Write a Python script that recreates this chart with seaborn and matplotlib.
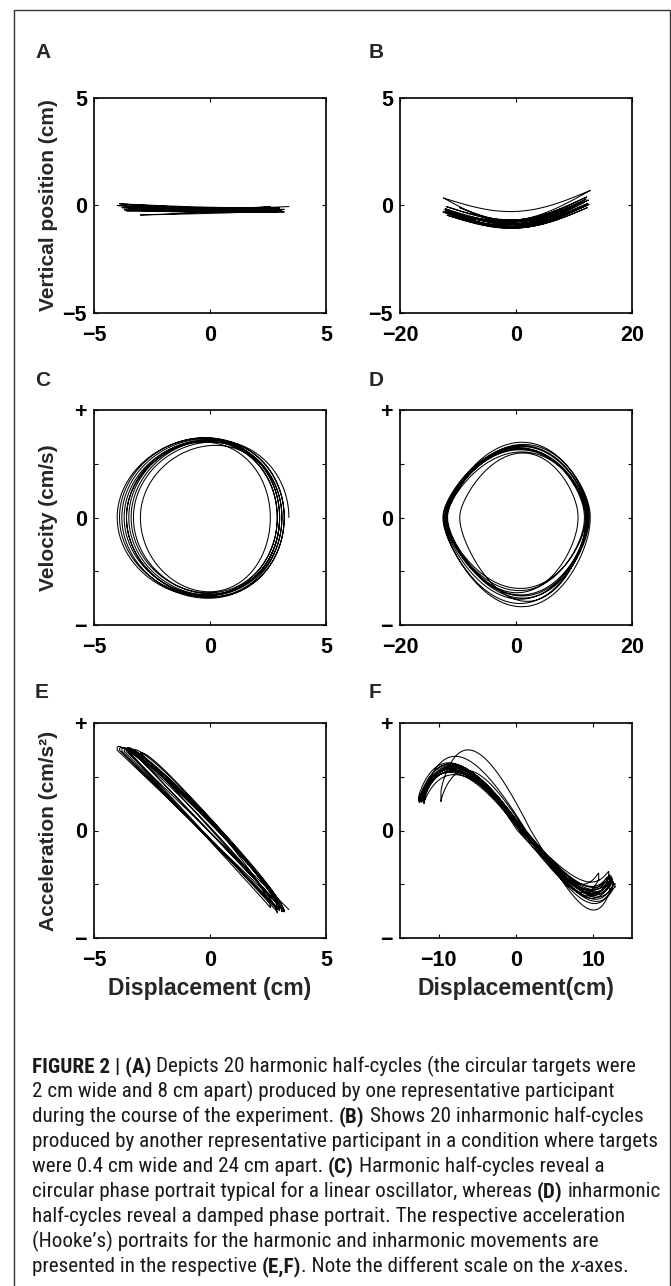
import numpy as np
import pandas as pd
import matplotlib
matplotlib.use("Agg")
import matplotlib.pyplot as plt
import seaborn as sns
from matplotlib.lines import Line2D
from matplotlib.font_manager import FontProperties, fontManager

# ---------------- data ----------------
# Harmonic participant (panels A, C, E): turning points of the 20 half-cycles (cm)
harm_turns = [3.0, -3.3, 3.1, -3.6, 2.9, -4.0, 3.2, -3.8, 3.0, -3.5, 2.6,
              -3.0, 3.1, -3.9, 3.0, -3.7, 2.9, -3.4, 3.2, -3.6, 3.4]
# vertical position at each turning point (cm, panel A)
harm_height = [-0.10, -0.05, -0.25, 0.05, -0.15, 0.00, -0.30, -0.10, -0.20, -0.15, -0.05,
               -0.44, -0.25, 0.08, -0.12, -0.20, -0.30, -0.05, -0.18, -0.25, -0.05]
# dip of the vertical path in each half-cycle (cm, panel A)
harm_sag = [0.05, 0.08, 0.02, 0.06, 0.10, 0.04, 0.07, 0.03, 0.05, 0.09,
            0.06, 0.02, 0.08, 0.05, 0.04, 0.07, 0.03, 0.06, 0.05, 0.04]
# peak velocity of each half-cycle (panel C, axis units -1..+1)
harm_vpeak = [0.71, 0.70, 0.74, 0.72, 0.73, 0.74, 0.75, 0.73, 0.72, 0.70,
              0.69, 0.67, 0.73, 0.74, 0.72, 0.71, 0.70, 0.72, 0.74, 0.72]
# peak acceleration of each half-cycle (panel E, axis units -1..+1)
harm_apeak = [0.74, 0.73, 0.75, 0.76, 0.77, 0.75, 0.76, 0.74, 0.73, 0.72,
              0.71, 0.73, 0.76, 0.75, 0.74, 0.74, 0.72, 0.75, 0.76, 0.74]
harm_abow = 0.08      # mid-movement acceleration offset seen in panel E
harm_alag = 0.10      # small acceleration phase lag (thin loops in panel E)

# Inharmonic participant (panels B, D, F)
inh_turns = [-12.0, 12.4, -12.3, 12.1, -9.7, 10.7, -11.8, 12.8, -12.5, 12.0, -12.1,
             12.6, -11.9, 12.3, -12.6, 11.8, -12.2, 12.5, -12.0, 12.2, -12.4]
inh_height = [-0.20, 0.10, -0.30, 0.30, -0.10, 0.00, -0.35, 0.70, 0.35, 0.00, -0.25,
              0.05, -0.45, -0.10, -0.30, 0.15, -0.15, 0.25, -0.05, 0.40, -0.20]
inh_sag = [0.80, 0.85, 0.75, 0.90, 0.70, 0.80, 0.85, 0.80, 1.05, 0.85,
           0.90, 0.80, 0.78, 0.85, 0.82, 0.88, 0.80, 0.76, 0.84, 0.80]
inh_vpeak = [0.66, 0.72, 0.63, 0.78, 0.60, 0.70, 0.68, 0.83, 0.64, 0.66,
             0.70, 0.75, 0.61, 0.80, 0.65, 0.68, 0.67, 0.73, 0.64, 0.76]
# acceleration peak near the left target (positive) and near the right target (negative)
inh_apos = [0.58, 0.55, 0.62, 0.75, 0.56, 0.60, 0.69, 0.57, 0.54, 0.61,
            0.59, 0.52, 0.60, 0.57, 0.63, 0.55, 0.58, 0.60, 0.56, 0.62]
inh_aneg = [0.55, 0.60, 0.52, 0.74, 0.58, 0.50, 0.62, 0.66, 0.56, 0.48,
            0.60, 0.64, 0.53, 0.58, 0.61, 0.55, 0.68, 0.57, 0.59, 0.63]
inh_skew = 0.17       # velocity peak lies right of the mid-point (panels D, F)
inh_shape = 0.04      # flattening of the velocity profile (diamond portrait)

# axis texts
panel_letters = ["A", "B", "C", "D", "E", "F"]
ylabels = ["Vertical position (cm)", "Velocity (cm/s)", "Acceleration (cm/s\u00b2)"]
xlabels = ["Displacement (cm)", "Displacement(cm)"]
xticks_h, xticklabels_h = [-5, 0, 5], ["\u22125", "0", "5"]
xticks_i, xticklabels_i = [-20, 0, 20], ["\u221220", "0", "20"]
xticks_f, xticklabels_f = [-10, 0, 10], ["\u221210", "0", "10"]
yticks_pos, yticklabels_pos = [-5, 0, 5], ["\u22125", "0", "5"]
yticks_rel, yticklabels_rel = [-1, -0.5, 0, 0.5, 1], ["\u2212", "", "0", "", "+"]

caption_lines = [
    [("FIGURE 2 | (A)", "bold"), (" Depicts 20 harmonic half-cycles (the circular targets were", "normal")],
    [("2 cm wide and 8 cm apart) produced by one representative participant", "normal")],
    [("during the course of the experiment. ", "normal"), ("(B)", "bold"),
     (" Shows 20 inharmonic half-cycles", "normal")],
    [("produced by another representative participant in a condition where targets", "normal")],
    [("were 0.4 cm wide and 24 cm apart. ", "normal"), ("(C)", "bold"),
     (" Harmonic half-cycles reveal a", "normal")],
    [("circular phase portrait typical for a linear oscillator, whereas ", "normal"),
     ("(D)", "bold"), (" inharmonic", "normal")],
    [("half-cycles reveal a damped phase portrait. The respective acceleration", "normal")],
    [("(Hooke\u2019s) portraits for the harmonic and inharmonic movements are", "normal")],
    [("presented in the respective ", "normal"), ("(E,F)", "bold"),
     (". Note the different scale on the ", "normal"), ("x", "italic"), ("-axes.", "normal")],
]

# ---------------- trajectories built from the half-cycle readings ----------------
def harmonic_df():
    tau = np.linspace(0, 1, 240)
    rows = []
    for i in range(len(harm_turns) - 1):
        x0, x1 = harm_turns[i], harm_turns[i + 1]
        d = np.sign(x1 - x0)
        s = (1 - np.cos(np.pi * tau)) / 2
        x = x0 + (x1 - x0) * s
        y = harm_height[i] + (harm_height[i + 1] - harm_height[i]) * s - harm_sag[i] * np.sin(np.pi * s)
        v = d * harm_vpeak[i] * np.sin(np.pi * tau) * (1 - 0.06 * d * np.cos(np.pi * tau))
        a = d * harm_apeak[i] * np.cos(np.pi * tau + harm_alag) + harm_abow * np.sin(np.pi * tau)
        rows.append(pd.DataFrame({"x": x, "y": y, "v": v, "a": a}))
    return pd.concat(rows, ignore_index=True)


def inharmonic_df():
    tau = np.linspace(0, 1, 400)
    b = inh_shape
    rows = []
    for i in range(len(inh_turns) - 1):
        x0, x1 = inh_turns[i], inh_turns[i + 1]
        d = np.sign(x1 - x0)
        mid, half = (x0 + x1) / 2, abs(x1 - x0) / 2
        w = tau - d * inh_skew * tau * (1 - tau)
        w1 = 1 - d * inh_skew * (1 - 2 * tau)
        w2 = 2 * d * inh_skew
        th = np.pi * w
        X = -(np.cos(th) - b * np.cos(3 * th)) / (1 - b)
        X1 = (np.sin(th) - 3 * b * np.sin(3 * th)) / (1 - b)
        X2 = (np.cos(th) - 9 * b * np.cos(3 * th)) / (1 - b)
        x = mid + d * half * X
        vraw = d * X1 * np.pi * w1
        v = vraw * inh_vpeak[i] / np.abs(vraw).max()
        acc = d * (X2 * np.pi ** 2 * w1 ** 2 + X1 * np.pi * w2)
        pos = acc > 0
        neg = acc < 0
        acc[pos] *= inh_apos[i] / acc[pos].max()
        acc[neg] *= inh_aneg[i] / (-acc[neg].min())
        u = (x - x0) / (x1 - x0)
        y = inh_height[i] + (inh_height[i + 1] - inh_height[i]) * u - inh_sag[i] * np.sin(np.pi * u)
        rows.append(pd.DataFrame({"x": x, "y": y, "v": v, "a": acc}))
    return pd.concat(rows, ignore_index=True)


harm = harmonic_df()
inh = inharmonic_df()

# ---------------- figure ----------------
sns.set_style("white")
plt.rcParams["font.family"] = ["Liberation Sans", "DejaVu Sans"]
plt.rcParams["axes.unicode_minus"] = True

W, H = 671, 1286
fig = plt.figure(figsize=(W / 100, H / 100), dpi=100)


def px_rect(l, r, t, b):
    return [l / W, 1 - b / H, (r - l) / W, (b - t) / H]


cols = [(94, 326), (400, 632)]
rows_px = [(98, 313), (410, 625), (723, 938)]

TICK_FS = 15.5
LW = 0.75


def style(ax, xlim, xt, xtl, ylim, yt, ytl):
    ax.set_xlim(xlim)
    ax.set_ylim(ylim)
    ax.set_xticks(xt)
    ax.set_xticklabels(xtl, fontsize=TICK_FS, fontweight="bold")
    ax.set_yticks(yt)
    ax.set_yticklabels(ytl, fontsize=TICK_FS, fontweight="bold")
    ax.tick_params(axis="x", direction="in", top=True, bottom=True, length=2.6, width=0.8,
                   pad=8.5, colors="black")
    ax.tick_params(axis="y", direction="in", left=True, right=True, length=2.6, width=0.8,
                   pad=5.0, colors="black")
    for sp in ax.spines.values():
        sp.set_visible(True)
        sp.set_linewidth(1.2)
        sp.set_color("black")
    ax.set_xlabel("")
    ax.set_ylabel("")
    ax.set_facecolor("white")


panels = [
    (harm, "x", "y", (-5, 5), xticks_h, xticklabels_h, (-5, 5), yticks_pos, yticklabels_pos),
    (inh, "x", "y", (-20, 20), xticks_i, xticklabels_i, (-5, 5), yticks_pos, yticklabels_pos),
    (harm, "x", "v", (-5, 5), xticks_h, xticklabels_h, (-1, 1), yticks_rel, yticklabels_rel),
    (inh, "x", "v", (-20, 20), xticks_i, xticklabels_i, (-1, 1), yticks_rel, yticklabels_rel),
    (harm, "x", "a", (-5, 5), xticks_h, xticklabels_h, (-1, 1), yticks_rel, yticklabels_rel),
    (inh, "x", "a", (-15, 15), xticks_f, xticklabels_f, (-1, 1), yticks_rel, yticklabels_rel),
]

for k, (df, xc, yc, xlim, xt, xtl, ylim, yt, ytl) in enumerate(panels):
    r, c = divmod(k, 2)
    ax = fig.add_axes(px_rect(cols[c][0], cols[c][1], rows_px[r][0], rows_px[r][1]))
    sns.lineplot(data=df, x=xc, y=yc, sort=False, estimator=None, color="black",
                 linewidth=LW, ax=ax, legend=False)
    style(ax, xlim, xt, xtl, ylim, yt, ytl)

# panel letters
letter_base = [58, 386, 698]
for k, lab in enumerate(panel_letters):
    r, c = divmod(k, 2)
    x = 35 if c == 0 else 369
    fig.text(x / W, 1 - letter_base[r] / H, lab, fontsize=15, fontweight="bold",
             ha="left", va="baseline")

# y labels
for r, lab in enumerate(ylabels):
    yc = (rows_px[r][0] + rows_px[r][1]) / 2
    fig.text(49 / W, 1 - yc / H, lab, rotation=90, fontsize=15, fontweight="bold",
             ha="center", va="center")

# x labels
for c, lab in enumerate(xlabels):
    xc = (cols[c][0] + cols[c][1]) / 2
    fig.text(xc / W, 1 - 995 / H, lab, fontsize=16.5, fontweight="bold",
             ha="center", va="baseline")

# frame
fx0, fx1, fy0 = 13.5, 669.5, 9.5
fig.add_artist(Line2D([fx0 / W, fx0 / W, fx1 / W, fx1 / W], [-0.05, 1 - fy0 / H, 1 - fy0 / H, -0.05],
                      transform=fig.transFigure, color="#333333", linewidth=1.0))

# caption
names = {f.name for f in fontManager.ttflist}
cap_family = "Liberation Sans"
for cand in ["Liberation Sans Narrow", "Roboto Condensed", "Open Sans Condensed", "DejaVu Sans Condensed"]:
    if cand in names:
        cap_family = cand
        break

renderer = fig.canvas.get_renderer()


def tw(s, fp):
    w, h, d = renderer.get_text_width_height_descent(s, fp, ismath=False)
    return w


def fprop(style_, size):
    if style_ == "bold":
        return FontProperties(family=cap_family, weight="bold", size=size)
    if style_ == "italic":
        return FontProperties(family=cap_family, style="italic", size=size)
    return FontProperties(family=cap_family, size=size)


ref_w = tw(caption_lines[3][0][0], fprop("normal", 10))
cap_size = 10 * 621 / ref_w

x_start = 32
for li, segs in enumerate(caption_lines):
    base = 1072 + 25 * li
    x = x_start
    for text, st in segs:
        fp = fprop(st, cap_size)
        sp_w = tw("a a", fp) - tw("aa", fp)
        lead = len(text) - len(text.lstrip(" "))
        trail = len(text) - len(text.rstrip(" "))
        core = text.strip(" ")
        x += lead * sp_w
        fig.text(x / W, 1 - base / H, core, fontproperties=fp, ha="left", va="baseline",
                 color="#1a1a1a")
        x += tw(core, fp) + trail * sp_w

fig.savefig("out.png", dpi=100)
